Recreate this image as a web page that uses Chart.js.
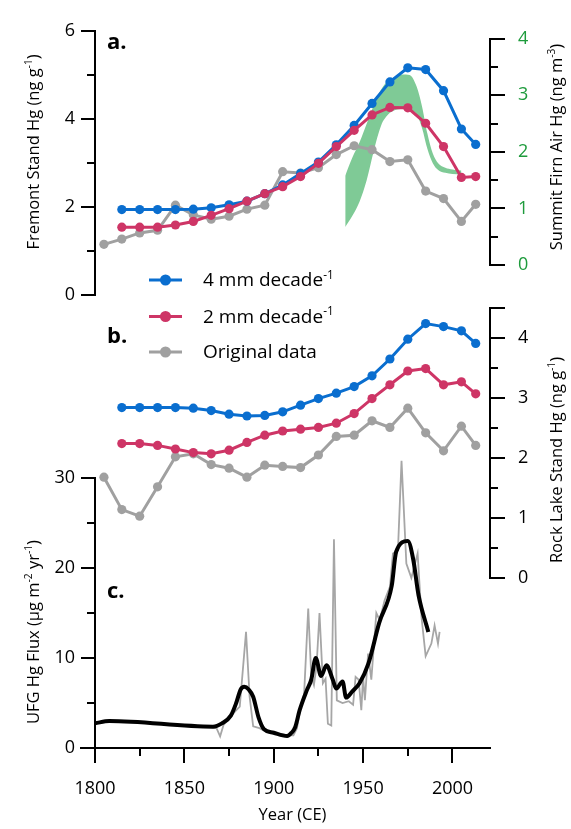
<!DOCTYPE html>
<html>
<head>
<meta charset="utf-8">
<script src="https://cdn.jsdelivr.net/npm/chart.js@4.4.1/dist/chart.umd.min.js"></script>
<style>
  body { margin: 0; background: #fff; }
  #wrap { position: relative; width: 571px; height: 829px; }
  #wrap canvas { position: absolute; left: 0; top: 0; }
</style>
</head>
<body>
<div id="wrap">
  <canvas id="firnChart" width="571" height="829"></canvas>
  <canvas id="fremontChart" width="571" height="829"></canvas>
  <canvas id="rockChart" width="571" height="829"></canvas>
  <canvas id="ufgChart" width="571" height="829"></canvas>
</div>
<script>
// sample years (original data has one extra point at the start)
const originalYears = [1805, 1815, 1825, 1835, 1845, 1855, 1865, 1875, 1885, 1895, 1905,
                       1915, 1925, 1935, 1945, 1955, 1965, 1975, 1985, 1995, 2005, 2013];
const modelYears = [1815, 1825, 1835, 1845, 1855, 1865, 1875, 1885, 1895, 1905,
                    1915, 1925, 1935, 1945, 1955, 1965, 1975, 1985, 1995, 2005, 2013];

// panel a - Fremont
const fremont4mm = [1.94, 1.94, 1.94, 1.94, 1.95, 1.98, 2.05, 2.13, 2.30, 2.50, 2.76,
                    3.02, 3.41, 3.85, 4.35, 4.84, 5.16, 5.12, 4.64, 3.77, 3.42];
const fremont2mm = [1.54, 1.54, 1.54, 1.59, 1.67, 1.81, 1.96, 2.13, 2.30, 2.46, 2.69,
                    2.99, 3.37, 3.74, 4.09, 4.26, 4.25, 3.90, 3.37, 2.67, 2.69];
const fremontOriginal = [1.15, 1.27, 1.41, 1.47, 2.04, 1.82, 1.72, 1.79, 1.95, 2.04, 2.80,
                         2.77, 2.89, 3.19, 3.39, 3.30, 3.03, 3.07, 2.36, 2.19, 1.67, 2.06];

// panel a - Summit firn air envelope
const firnYears = [1940, 1944, 1948, 1952, 1956, 1960, 1964, 1968, 1972, 1976,
                   1980, 1983, 1986, 1989, 1992, 1996, 2000, 2005];
const firnHigh = [1.58, 1.90, 2.17, 2.50, 2.83, 3.10, 3.26, 3.33, 3.37, 3.36,
                  3.15, 2.80, 2.32, 1.97, 1.80, 1.72, 1.69, 1.67];
const firnLow = [0.67, 0.87, 1.12, 1.50, 2.02, 2.46, 2.66, 2.74, 2.76, 2.74,
                 2.66, 2.42, 2.05, 1.80, 1.68, 1.63, 1.61, 1.60];

// panel b - Rock Lake
const rock4mm = [2.84, 2.84, 2.84, 2.84, 2.83, 2.79, 2.73, 2.70, 2.71, 2.77, 2.88,
                 2.99, 3.08, 3.19, 3.37, 3.65, 3.98, 4.24, 4.19, 4.12, 3.91];
const rock2mm = [2.24, 2.24, 2.21, 2.15, 2.09, 2.07, 2.13, 2.26, 2.38, 2.45, 2.48,
                 2.51, 2.58, 2.74, 2.99, 3.22, 3.45, 3.49, 3.22, 3.27, 3.07];
const rockOriginal = [1.68, 1.14, 1.03, 1.52, 2.02, 2.07, 1.89, 1.83, 1.68, 1.88, 1.86,
                      1.84, 2.05, 2.36, 2.38, 2.62, 2.51, 2.83, 2.42, 2.12, 2.53, 2.21];

// panel c - UFG flux
const ufgSmoothYears = [1800, 1808, 1866, 1871, 1876, 1879, 1881.5, 1883.5, 1886, 1888.5,
                        1891.5, 1894.5, 1900, 1905, 1907.5, 1910, 1912, 1914.5, 1918.5, 1921,
                        1923.5, 1926.5, 1929.5, 1933, 1935, 1938.5, 1940.5, 1944, 1948, 1953,
                        1959, 1966, 1968.5, 1975, 1978, 1981, 1986.5];
const ufgSmooth = [2.74, 3.0, 2.37, 2.74, 3.6, 5.0, 6.5, 6.8, 6.5, 5.7,
                   3.4, 2.1, 1.7, 1.4, 1.33, 1.7, 2.3, 4.2, 6.4, 7.6,
                   10.0, 8.0, 9.2, 7.6, 6.6, 7.4, 5.6, 6.3, 7.2, 9.4,
                   13.9, 18.0, 21.8, 23.0, 21.0, 17.0, 12.9];
const ufgRawYears = [1866, 1868, 1870, 1872, 1875, 1878, 1881, 1884.5, 1886.5, 1888.5,
                     1892, 1896, 1900, 1905, 1909, 1911, 1913, 1915, 1917, 1919.3,
                     1921, 1922.5, 1924, 1925.6, 1927.5, 1929, 1930.3, 1932.2, 1933.7, 1935.3,
                     1938.5, 1942, 1944.4, 1945.8, 1947.5, 1949, 1950, 1951, 1952.8, 1954.6,
                     1957.4, 1959.3, 1962, 1965, 1966.7, 1969.5, 1971.5, 1974.2, 1977, 1980.5,
                     1982.7, 1985, 1988.2, 1990, 1991.9, 1992.8];
const ufgRaw = [2.3, 2.2, 1.3, 2.6, 3.2, 4.0, 4.6, 12.9, 5.7, 2.4,
                2.2, 1.8, 1.6, 1.5, 1.4, 1.4, 2.2, 4.5, 6.0, 15.5,
                8.0, 7.0, 9.2, 15.0, 7.2, 7.7, 2.7, 2.5, 23.2, 5.3,
                5.0, 5.2, 4.8, 7.9, 7.6, 4.2, 7.9, 5.3, 10.5, 7.6,
                15.0, 14.2, 16.4, 17.9, 21.6, 22.0, 31.9, 20.5, 18.9, 21.6,
                14.5, 10.2, 11.6, 13.6, 11.6, 12.9];

const yearMajor = [1800, 1850, 1900, 1950, 2000];
const yearMinor = [1825, 1875, 1925, 1975];

const BLUE = '#0A6ECF';
const RED = '#CE3566';
const GRAY = '#A0A0A0';
const FONT = "'Open Sans', sans-serif";

Chart.defaults.font.family = FONT;
Chart.defaults.color = '#000';

const pts = (xs, ys) => xs.map((x, i) => ({ x: x, y: ys[i] }));

function dotLine(label, xs, ys, color) {
    return {
        label: label,
        data: pts(xs, ys),
        borderColor: color,
        backgroundColor: color,
        borderWidth: 3,
        pointRadius: 4.6,
        pointBorderWidth: 0,
        pointHoverRadius: 0,
        tension: 0
    };
}

function hiddenX() {
    return { type: 'linear', min: 1800, max: 2021, display: false };
}

function yAxis(side, min, max, step, width, pad, color) {
    return {
        type: 'linear',
        position: side,
        min: min,
        max: max,
        afterFit: (scale) => { scale.width = width; },
        ticks: { stepSize: step, includeBounds: false, padding: pad, font: { size: 18 }, color: color || '#000' },
        grid: { display: false, drawTicks: false },
        border: { display: true, color: '#000', width: 2 }
    };
}

// tick marks (major + minor) and rotated/superscript text, drawn on top of each chart
function drawRich(ctx, item) {
    const size = item.size;
    const weight = item.bold ? 'bold ' : '';
    const parts = item.parts.map(p => p[0] === '^' ? { t: p.slice(1), sup: true } : { t: p, sup: false });
    let total = 0;
    const widths = parts.map(p => {
        ctx.font = weight + (p.sup ? size * 0.62 : size) + 'px ' + FONT;
        const w = ctx.measureText(p.t).width;
        total += w;
        return w;
    });
    ctx.save();
    ctx.translate(item.x, item.y);
    if (item.rotate) ctx.rotate(-Math.PI / 2);
    ctx.fillStyle = item.color || '#000';
    ctx.textBaseline = 'middle';
    ctx.textAlign = 'left';
    let cx = item.align === 'left' ? 0 : -total / 2;
    parts.forEach((p, i) => {
        ctx.font = weight + (p.sup ? size * 0.62 : size) + 'px ' + FONT;
        ctx.fillText(p.t, cx, p.sup ? -size * 0.3 : 0);
        cx += widths[i];
    });
    ctx.restore();
}

const overlay = {
    id: 'overlay',
    afterDraw(chart, args, opts) {
        const ctx = chart.ctx;
        const area = chart.chartArea;
        ctx.save();
        ctx.strokeStyle = '#000';
        ctx.lineWidth = 2;
        (opts.marks || []).forEach(m => {
            const scale = chart.scales[m.scale];
            const draw = (v, len) => {
                const p = Math.round(scale.getPixelForValue(v));
                ctx.beginPath();
                if (m.side === 'left') { ctx.moveTo(area.left, p); ctx.lineTo(area.left - len, p); }
                else if (m.side === 'right') { ctx.moveTo(area.right, p); ctx.lineTo(area.right + len, p); }
                else { ctx.moveTo(p, area.bottom); ctx.lineTo(p, area.bottom + len); }
                ctx.stroke();
            };
            m.major.forEach(v => draw(v, m.majorLen));
            m.minor.forEach(v => draw(v, m.minorLen));
        });
        if (opts.stub) {
            ctx.beginPath();
            ctx.moveTo(area.left, Math.round(area.bottom));
            ctx.lineTo(area.left - opts.stub, Math.round(area.bottom));
            ctx.stroke();
        }
        (opts.keys || []).forEach(k => {
            ctx.strokeStyle = k.color;
            ctx.fillStyle = k.color;
            ctx.lineWidth = 3;
            ctx.beginPath();
            ctx.moveTo(k.x1, k.y);
            ctx.lineTo(k.x2, k.y);
            ctx.stroke();
            ctx.beginPath();
            ctx.arc((k.x1 + k.x2) / 2, k.y, 5.5, 0, Math.PI * 2);
            ctx.fill();
        });
        ctx.restore();
        (opts.texts || []).forEach(t => drawRich(ctx, t));
    }
};

const common = {
    responsive: false,
    animation: false,
    events: []
};

// green firn air envelope, right axis 0-4
new Chart(document.getElementById('firnChart'), {
    type: 'line',
    data: {
        datasets: [
            { data: pts(firnYears, firnHigh), borderWidth: 0, pointRadius: 0, backgroundColor: '#7FCA96',
              fill: '+1', cubicInterpolationMode: 'monotone' },
            { data: pts(firnYears, firnLow), borderWidth: 0, pointRadius: 0, fill: false,
              cubicInterpolationMode: 'monotone' }
        ]
    },
    options: Object.assign({}, common, {
        layout: { padding: { left: 95, right: 0, top: 25, bottom: 564 } },
        plugins: {
            legend: { display: false }, tooltip: { enabled: false },
            overlay: {
                marks: [{ scale: 'y', side: 'right', major: [0, 1, 2, 3, 4], minor: [0.5, 1.5, 2.5, 3.5], majorLen: 15, minorLen: 8 }],
                texts: [{ parts: ['Summit Firn Air Hg (ng m', '^-3', ')'], x: 557, y: 147, size: 16.5, rotate: true }]
            }
        },
        scales: { x: hiddenX(), y: yAxis('right', 0, 4, 1, 81, 28, '#1E9B3C') }
    }),
    plugins: [overlay]
});

// panel a, Fremont stand
new Chart(document.getElementById('fremontChart'), {
    type: 'line',
    data: {
        datasets: [
            dotLine('2 mm decade', modelYears, fremont2mm, RED),
            dotLine('4 mm decade', modelYears, fremont4mm, BLUE),
            dotLine('Original data', originalYears, fremontOriginal, GRAY)
        ]
    },
    options: Object.assign({}, common, {
        layout: { padding: { left: 0, right: 81, top: 25, bottom: 534 } },
        plugins: {
            legend: { display: false }, tooltip: { enabled: false },
            overlay: {
                marks: [{ scale: 'y', side: 'left', major: [0, 2, 4, 6], minor: [1, 3, 5], majorLen: 14, minorLen: 8 }],
                texts: [
                    { parts: ['a.'], x: 107, y: 43, size: 22, bold: true, align: 'left' },
                    { parts: ['Fremont Stand Hg (ng g', '^-1', ')'], x: 34, y: 152, size: 16.5, rotate: true }
                ]
            }
        },
        scales: { x: hiddenX(), y: yAxis('left', 0, 6, 2, 95, 20) }
    }),
    plugins: [overlay]
});

// panel b, Rock Lake stand
new Chart(document.getElementById('rockChart'), {
    type: 'line',
    data: {
        datasets: [
            dotLine('2 mm decade', modelYears, rock2mm, RED),
            dotLine('4 mm decade', modelYears, rock4mm, BLUE),
            dotLine('Original data', originalYears, rockOriginal, GRAY)
        ]
    },
    options: Object.assign({}, common, {
        layout: { padding: { left: 95, right: 0, top: 308, bottom: 251 } },
        plugins: {
            legend: { display: false }, tooltip: { enabled: false },
            overlay: {
                marks: [{ scale: 'y', side: 'right', major: [0, 1, 2, 3, 4, 4.5], minor: [0.5, 1.5, 2.5, 3.5], majorLen: 15, minorLen: 8 }],
                keys: [
                    { x1: 149, x2: 182, y: 280, color: BLUE },
                    { x1: 149, x2: 182, y: 316.5, color: RED },
                    { x1: 149, x2: 182, y: 352, color: GRAY }
                ],
                texts: [
                    { parts: ['4 mm decade', '^-1'], x: 203, y: 281, size: 19, align: 'left' },
                    { parts: ['2 mm decade', '^-1'], x: 203, y: 317.5, size: 19, align: 'left' },
                    { parts: ['Original data'], x: 203, y: 353, size: 19, align: 'left' },
                    { parts: ['b.'], x: 107, y: 337, size: 22, bold: true, align: 'left' },
                    { parts: ['Rock Lake Stand Hg (ng g', '^-1', ')'], x: 557, y: 460, size: 16.5, rotate: true }
                ]
            }
        },
        scales: { x: hiddenX(), y: yAxis('right', 0, 4.5, 1, 81, 28) }
    }),
    plugins: [overlay]
});

// panel c, UFG flux with the shared year axis
new Chart(document.getElementById('ufgChart'), {
    type: 'line',
    data: {
        datasets: [
            { data: pts(ufgSmoothYears, ufgSmooth), borderColor: '#000', borderWidth: 4, pointRadius: 0,
              cubicInterpolationMode: 'monotone' },
            { data: pts(ufgRawYears, ufgRaw), borderColor: '#A6A6A6', borderWidth: 1.8, pointRadius: 0,
              tension: 0, clip: false }
        ]
    },
    options: Object.assign({}, common, {
        layout: { padding: { left: 0, right: 81, top: 478, bottom: 0 } },
        plugins: {
            legend: { display: false }, tooltip: { enabled: false },
            overlay: {
                marks: [
                    { scale: 'y', side: 'left', major: [0, 10, 20, 30], minor: [5, 15, 25], majorLen: 14, minorLen: 8 },
                    { scale: 'x', side: 'bottom', major: yearMajor, minor: yearMinor, majorLen: 15, minorLen: 8 }
                ],
                stub: 15,
                texts: [
                    { parts: ['c.'], x: 107, y: 592, size: 22, bold: true, align: 'left' },
                    { parts: ['UFG Hg Flux (\u00b5g m', '^-2', ' yr', '^-1', ')'], x: 34, y: 632, size: 16.5, rotate: true }
                ]
            }
        },
        scales: {
            x: {
                type: 'linear', position: 'bottom', min: 1800, max: 2021,
                afterFit: (scale) => { scale.height = 81; },
                ticks: { stepSize: 50, includeBounds: false, padding: 30, font: { size: 18 },
                         maxRotation: 0, autoSkip: false, callback: (v) => String(v) },
                grid: { display: false, drawTicks: false },
                border: { display: true, color: '#000', width: 2 },
                title: { display: true, text: 'Year (CE)', font: { size: 16.5 }, padding: { top: 0, bottom: 4 } }
            },
            y: yAxis('left', 0, 30, 10, 95, 20)
        }
    }),
    plugins: [overlay]
});
</script>
</body>
</html>
